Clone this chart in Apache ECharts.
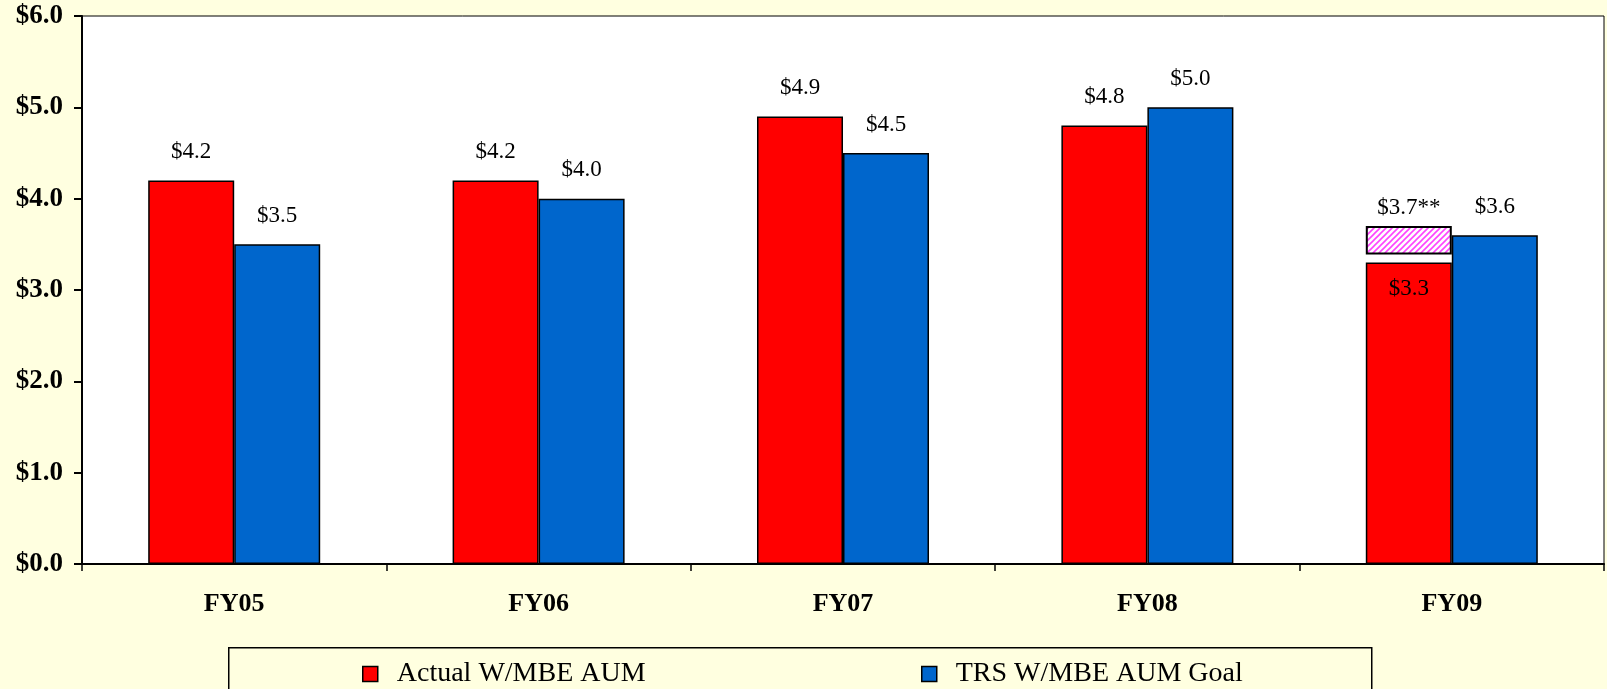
<!DOCTYPE html>
<html>
<head>
<meta charset="utf-8">
<script src="https://cdn.jsdelivr.net/npm/echarts@6/dist/echarts.min.js"></script>
<style>
  html, body { margin: 0; padding: 0; background: #ffffe0; }
  #chart { width: 1607px; height: 689px; }
</style>
</head>
<body>
<div id="chart"></div>
<script>
// chart data
var categories = ['FY05', 'FY06', 'FY07', 'FY08', 'FY09'];
var actualAum = [4.2, 4.2, 4.9, 4.8, 3.3];
var goalAum = [3.5, 4.0, 4.5, 5.0, 3.6];
// FY09 projected box (**), drawn above the actual bar
var projectedTop = [null, null, null, null, 3.7];
var projectedBottom = [null, null, null, null, 3.39];
var yTicks = [0, 1, 2, 3, 4, 5, 6];

var SERIF = '"Liberation Serif", "Times New Roman", serif';

// hatch pattern for the projected box
function makeHatch() {
  var c = document.createElement('canvas');
  c.width = 6; c.height = 6;
  var g = c.getContext('2d');
  g.fillStyle = '#ffffff';
  g.fillRect(0, 0, 6, 6);
  g.strokeStyle = '#ff44ff';
  g.lineWidth = 1.6;
  g.beginPath();
  g.moveTo(-1, 7); g.lineTo(7, -1);
  g.moveTo(-4, 4); g.lineTo(4, -4);
  g.moveTo(2, 10); g.lineTo(10, 2);
  g.stroke();
  return c;
}

var gapData = actualAum.map(function (v, i) {
  return projectedBottom[i] == null ? null : +(projectedBottom[i] - v).toFixed(3);
});
var hatchData = projectedTop.map(function (v, i) {
  return v == null ? null : +(v - projectedBottom[i]).toFixed(3);
});

var fmt = function (v) { return '$' + v.toFixed(1); };

var chart = echarts.init(document.getElementById('chart'));
var legendText = { fontFamily: SERIF, fontSize: 28, color: '#000', padding: [0, 0, 0, 14] };
var option = {
  backgroundColor: '#ffffe0',
  animation: false,
  grid: {
    left: 82, right: 3, top: 16, bottom: 125,
    show: true, backgroundColor: '#ffffff', borderColor: '#000', borderWidth: 1
  },
  xAxis: {
    type: 'category',
    data: categories,
    axisLine: { lineStyle: { color: '#000', width: 2 } },
    axisTick: { show: true, length: 7, inside: false, lineStyle: { color: '#000', width: 1.5 } },
    axisLabel: {
      margin: 27, color: '#000', fontFamily: SERIF, fontWeight: 'bold', fontSize: 26
    }
  },
  yAxis: {
    type: 'value',
    min: yTicks[0], max: yTicks[yTicks.length - 1], interval: 1,
    splitLine: { show: false },
    axisLine: { show: true, lineStyle: { color: '#000', width: 2 } },
    axisTick: { show: true, length: 8, lineStyle: { color: '#000', width: 2 } },
    axisLabel: {
      margin: 19, color: '#000', fontFamily: SERIF, fontWeight: 'bold', fontSize: 27,
      formatter: fmt
    }
  },
  legend: [
    {
      data: ['Actual W/MBE AUM'], left: 362, top: 660, icon: 'rect',
      itemWidth: 15, itemHeight: 15, itemGap: 0, padding: 0,
      itemStyle: { borderColor: '#000', borderWidth: 1.5 },
      textStyle: legendText
    },
    {
      data: ['TRS W/MBE AUM Goal'], left: 921, top: 660, icon: 'rect',
      itemWidth: 15, itemHeight: 15, itemGap: 0, padding: 0,
      itemStyle: { borderColor: '#000', borderWidth: 1.5 },
      textStyle: legendText
    }
  ],
  graphic: [{
    type: 'rect', left: 228, top: 647, z: -1,
    shape: { width: 1143, height: 50 },
    style: { fill: '#ffffe0', stroke: '#000', lineWidth: 1.5 }
  }],
  series: [
    {
      name: 'Actual W/MBE AUM', type: 'bar', stack: 'actual',
      barWidth: 86, barGap: '0%',
      data: actualAum.map(function (v, i) {
        return projectedTop[i] == null ? v : {
          value: v,
          label: { position: 'insideTop', distance: 15 }
        };
      }),
      itemStyle: { color: '#ff0000', borderColor: '#000', borderWidth: 1.5 },
      label: {
        show: true, position: 'top', distance: 17, color: '#000',
        fontFamily: SERIF, fontSize: 23,
        formatter: function (p) { return fmt(p.value); }
      }
    },
    {
      name: 'gap', type: 'bar', stack: 'actual', barWidth: 86,
      data: gapData, silent: true,
      itemStyle: { color: 'rgba(0,0,0,0)' }
    },
    {
      name: 'projected', type: 'bar', stack: 'actual', barWidth: 86,
      data: hatchData,
      itemStyle: {
        color: { image: makeHatch(), repeat: 'repeat' },
        borderColor: '#000', borderWidth: 2
      },
      label: {
        show: true, position: 'top', distance: 7, color: '#000',
        fontFamily: SERIF, fontSize: 23,
        formatter: function (p) { return fmt(projectedTop[p.dataIndex]) + '**'; }
      }
    },
    {
      name: 'TRS W/MBE AUM Goal', type: 'bar',
      barWidth: 86, barGap: '0%',
      data: goalAum,
      itemStyle: { color: '#0066cc', borderColor: '#000', borderWidth: 1.5 },
      label: {
        show: true, position: 'top', distance: 17, color: '#000',
        fontFamily: SERIF, fontSize: 23,
        formatter: function (p) { return fmt(p.value); }
      }
    }
  ]
};
chart.setOption(option);
</script>
</body>
</html>
